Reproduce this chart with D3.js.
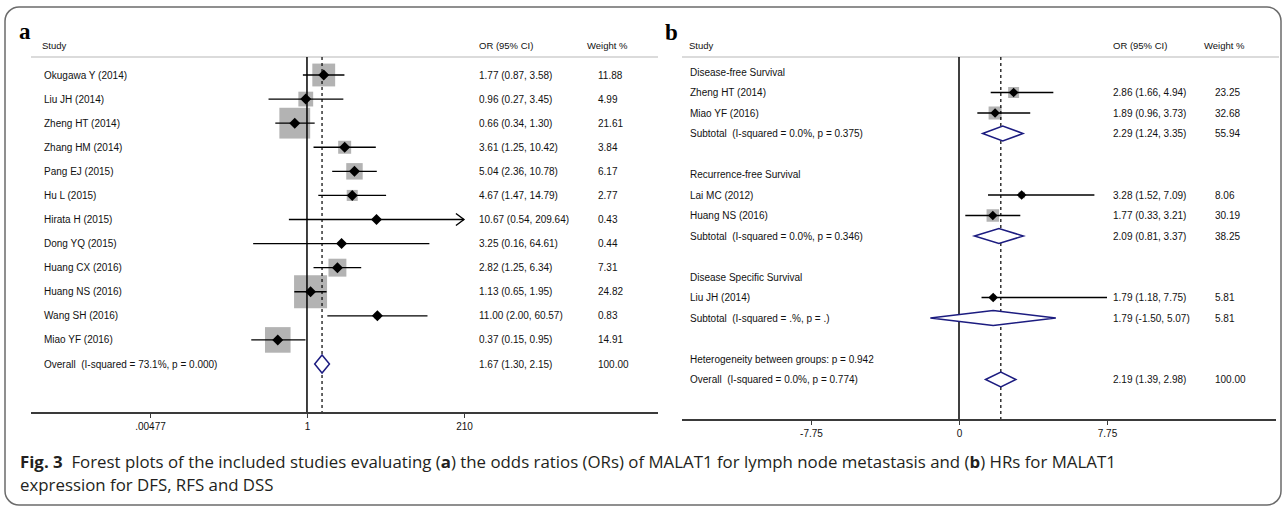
<!DOCTYPE html>
<html>
<head>
<meta charset="utf-8">
<script src="https://cdn.jsdelivr.net/npm/d3@7"></script>
<style>
  body { margin: 0; background: #fff; }
  svg { display: block; }
  svg text { white-space: pre; }
</style>
</head>
<body>
<svg id="chart" width="1287" height="512"></svg>
<script>
// panel a : odds ratios, log scale
const studiesA = ["Okugawa Y (2014)", "Liu JH (2014)", "Zheng HT (2014)", "Zhang HM (2014)",
  "Pang EJ (2015)", "Hu L (2015)", "Hirata H (2015)", "Dong YQ (2015)", "Huang CX (2016)",
  "Huang NS (2016)", "Wang SH (2016)", "Miao YF (2016)"];
const orA     = [1.77, 0.96, 0.66, 3.61, 5.04, 4.67, 10.67, 3.25, 2.82, 1.13, 11.00, 0.37];
const lowA    = [0.87, 0.27, 0.34, 1.25, 2.36, 1.47, 0.54, 0.16, 1.25, 0.65, 2.00, 0.15];
const highA   = [3.58, 3.45, 1.30, 10.42, 10.78, 14.79, 209.64, 64.61, 6.34, 1.95, 60.57, 0.95];
const weightA = [11.88, 4.99, 21.61, 3.84, 6.17, 2.77, 0.43, 0.44, 7.31, 24.82, 0.83, 14.91];
const overallA = { label: "Overall  (I-squared = 73.1%, p = 0.000)", est: 1.67, low: 1.30, high: 2.15, weight: 100.00 };
const tickValuesA = [0.00477, 1, 210];
const tickLabelsA = [".00477", "1", "210"];

// panel b : hazard ratios by outcome
const labelsB = ["Disease-free Survival", "Zheng HT (2014)", "Miao YF (2016)",
  "Subtotal  (I-squared = 0.0%, p = 0.375)", "",
  "Recurrence-free Survival", "Lai MC (2012)", "Huang NS (2016)",
  "Subtotal  (I-squared = 0.0%, p = 0.346)", "",
  "Disease Specific Survival", "Liu JH (2014)", "Subtotal  (I-squared = .%, p = .)", "",
  "Heterogeneity between groups: p = 0.942", "Overall  (I-squared = 0.0%, p = 0.774)"];
const kindB   = ["head", "study", "study", "pooled", "blank", "head", "study", "study", "pooled", "blank",
  "head", "study", "pooled", "blank", "head", "pooled"];
const hrB     = [null, 2.86, 1.89, 2.29, null, null, 3.28, 1.77, 2.09, null, null, 1.79, 1.79, null, null, 2.19];
const lowB    = [null, 1.66, 0.96, 1.24, null, null, 1.52, 0.33, 0.81, null, null, 1.18, -1.50, null, null, 1.39];
const highB   = [null, 4.94, 3.73, 3.35, null, null, 7.09, 3.21, 3.37, null, null, 7.75, 5.07, null, null, 2.98];
const weightB = [null, 23.25, 32.68, 55.94, null, null, 8.06, 30.19, 38.25, null, null, 5.81, 5.81, null, null, 100.00];
const overallB = 2.19;
const tickValuesB = [-7.75, 0, 7.75];
const tickLabelsB = ["-7.75", "0", "7.75"];

const svg = d3.select("#chart");
const font = "'Liberation Sans', Arial, Helvetica, sans-serif";
const f2 = v => d3.format(".2f")(v).replace("\u2212", "-");
const navy = "#1c1c80";
const ciText = (e, l, h) => `${f2(e)} (${f2(l)}, ${f2(h)})`;

// frame
svg.append("rect")
  .attr("x", 5).attr("y", 7).attr("width", 1276).attr("height", 498)
  .attr("rx", 14).attr("fill", "none").attr("stroke", "#6b6b6b").attr("stroke-width", 1.5);

function diamond(g, x, y, lo, hi, h) {
  g.append("path")
    .attr("d", `M${lo},${y} L${x},${y - h} L${hi},${y} L${x},${y + h} Z`)
    .attr("fill", "#fff").attr("stroke", navy).attr("stroke-width", 1.5);
}
function marker(g, x, y, s) {
  g.append("path")
    .attr("d", `M${x - s},${y} L${x},${y - s} L${x + s},${y} L${x},${y + s} Z`)
    .attr("fill", "#000");
}
function label(g, x, y, t, size) {
  return g.append("text").attr("x", x).attr("y", y).attr("dy", "0.35em")
    .text(t).style("font-size", (size || 10) + "px").attr("fill", "#111");
}

// ---------------- panel a ----------------
let ga = svg.append("g").style("font-family", font);
let xA = d3.scaleLog().domain([0.00477, 210]).range([150, 464]);
let yA = d3.scaleLinear().domain([0, 12]).range([75, 364]);
let boxA = d3.scaleSqrt().domain([0, 24.82]).range([0, 33]);
let axisYA = 413, topA = 57;

svg.append("text").attr("x", 19).attr("y", 39).text("a")
  .style("font-family", "'Liberation Serif', 'DejaVu Serif', serif")
  .style("font-weight", "bold").style("font-size", "23px");

label(ga, 42, 46, "Study", 9.5);
label(ga, 479, 46, "OR (95% CI)", 9.5);
label(ga, 587, 46, "Weight %", 9.5);
ga.append("line").attr("x1", 31).attr("x2", 658).attr("y1", topA).attr("y2", topA)
  .attr("stroke", "#cfcfcf").attr("stroke-width", 1.5);

// weight boxes
ga.selectAll("rect.box").data(orA).enter().append("rect").attr("class", "box")
  .attr("x", (d, i) => xA(d) - boxA(weightA[i]) / 2)
  .attr("y", (d, i) => yA(i) - boxA(weightA[i]) / 2)
  .attr("width", (d, i) => boxA(weightA[i]))
  .attr("height", (d, i) => boxA(weightA[i]))
  .attr("fill", "#b3b3b3");

// reference lines
ga.append("line").attr("x1", xA(1)).attr("x2", xA(1)).attr("y1", topA).attr("y2", axisYA)
  .attr("stroke", "#000").attr("stroke-width", 1.5);
ga.append("line").attr("x1", xA(overallA.est)).attr("x2", xA(overallA.est)).attr("y1", topA).attr("y2", axisYA)
  .attr("stroke", "#000").attr("stroke-width", 1.2).attr("stroke-dasharray", "3,3");

// confidence intervals
let xMaxA = xA.range()[1];
orA.forEach((d, i) => {
  let x1 = xA(lowA[i]), x2 = Math.min(xA(highA[i]), xMaxA);
  ga.append("line").attr("x1", x1).attr("x2", x2).attr("y1", yA(i)).attr("y2", yA(i))
    .attr("stroke", "#000").attr("stroke-width", 1.4);
  if (xA(highA[i]) > xMaxA - 3) {
    ga.append("path").attr("d", `M${x2 - 8},${yA(i) - 6} L${x2},${yA(i)} L${x2 - 8},${yA(i) + 6}`)
      .attr("fill", "none").attr("stroke", "#000").attr("stroke-width", 1.4);
  }
  marker(ga, xA(d), yA(i), 5.5);
});
diamond(ga, xA(overallA.est), yA(12), xA(overallA.low), xA(overallA.high), 9);

// text columns
studiesA.forEach((s, i) => {
  label(ga, 44, yA(i), s);
  label(ga, 479, yA(i), ciText(orA[i], lowA[i], highA[i]));
  label(ga, 598, yA(i), f2(weightA[i]));
});
label(ga, 44, yA(12), overallA.label);
label(ga, 479, yA(12), ciText(overallA.est, overallA.low, overallA.high));
label(ga, 598, yA(12), f2(overallA.weight));

// axis
ga.append("line").attr("x1", 31).attr("x2", 658).attr("y1", axisYA).attr("y2", axisYA)
  .attr("stroke", "#3a3a3a").attr("stroke-width", 2);
let axA = ga.append("g").attr("transform", `translate(0,${axisYA})`)
  .call(d3.axisBottom(xA).tickValues(tickValuesA).tickSize(5).tickPadding(5)
    .tickFormat((d, i) => tickLabelsA[i]));
axA.select(".domain").remove();
axA.selectAll("text").style("font-family", font).style("font-size", "10px").attr("fill", "#111");
axA.selectAll("line").attr("stroke", "#3a3a3a");

// ---------------- panel b ----------------
let gb = svg.append("g").style("font-family", font);
let xB = d3.scaleLinear().domain([-7.75, 7.75]).range([811, 1107]);
let yB = d3.scaleLinear().domain([0, 15]).range([72, 379.5]);
let boxB = d3.scaleSqrt().domain([0, 32.68]).range([0, 13]);
let axisYB = 420, topB = 57;

svg.append("text").attr("x", 665).attr("y", 40).text("b")
  .style("font-family", "'Liberation Serif', 'DejaVu Serif', serif")
  .style("font-weight", "bold").style("font-size", "23px");

label(gb, 689, 46, "Study", 9.5);
label(gb, 1113, 46, "OR (95% CI)", 9.5);
label(gb, 1204, 46, "Weight %", 9.5);
gb.append("line").attr("x1", 682).attr("x2", 1279).attr("y1", topB).attr("y2", topB)
  .attr("stroke", "#cfcfcf").attr("stroke-width", 1.5);

kindB.forEach((k, i) => {
  if (k !== "study") return;
  let s = boxB(weightB[i]);
  gb.append("rect").attr("x", xB(hrB[i]) - s / 2).attr("y", yB(i) - s / 2)
    .attr("width", s).attr("height", s).attr("fill", "#b3b3b3");
});

gb.append("line").attr("x1", xB(0)).attr("x2", xB(0)).attr("y1", topB).attr("y2", axisYB)
  .attr("stroke", "#000").attr("stroke-width", 1.5);
gb.append("line").attr("x1", xB(overallB)).attr("x2", xB(overallB)).attr("y1", topB).attr("y2", axisYB)
  .attr("stroke", "#000").attr("stroke-width", 1.2).attr("stroke-dasharray", "3,3");

kindB.forEach((k, i) => {
  if (k === "blank") return;
  label(gb, 690, yB(i), labelsB[i]);
  if (k === "head") return;
  if (k === "study") {
    gb.append("line").attr("x1", xB(lowB[i])).attr("x2", xB(highB[i])).attr("y1", yB(i)).attr("y2", yB(i))
      .attr("stroke", "#000").attr("stroke-width", 1.4);
    marker(gb, xB(hrB[i]), yB(i), 4.8);
  } else {
    diamond(gb, xB(hrB[i]), yB(i), xB(lowB[i]), xB(highB[i]), 7.5);
  }
  label(gb, 1113, yB(i), ciText(hrB[i], lowB[i], highB[i]));
  label(gb, 1215, yB(i), f2(weightB[i]));
});

gb.append("line").attr("x1", 682).attr("x2", 1276).attr("y1", axisYB).attr("y2", axisYB)
  .attr("stroke", "#3a3a3a").attr("stroke-width", 2);
let axB = gb.append("g").attr("transform", `translate(0,${axisYB})`)
  .call(d3.axisBottom(xB).tickValues(tickValuesB).tickSize(5).tickPadding(5)
    .tickFormat((d, i) => tickLabelsB[i]));
axB.select(".domain").remove();
axB.selectAll("text").style("font-family", font).style("font-size", "10px").attr("fill", "#111");
axB.selectAll("line").attr("stroke", "#3a3a3a");

// ---------------- caption ----------------
const capFont = "'Open Sans', 'Noto Sans', sans-serif";
let cap1 = svg.append("text").attr("x", 20).attr("y", 468)
  .style("font-family", capFont).style("font-size", "16px").attr("fill", "#231f20");
cap1.append("tspan").text("Fig. 3").style("font-weight", "bold");
cap1.append("tspan").text("  Forest plots of the included studies evaluating (");
cap1.append("tspan").text("a").style("font-weight", "bold");
cap1.append("tspan").text(") the odds ratios (ORs) of MALAT1 for lymph node metastasis and (");
cap1.append("tspan").text("b").style("font-weight", "bold");
cap1.append("tspan").text(") HRs for MALAT1");
let cap2 = svg.append("text").attr("x", 20).attr("y", 491)
  .style("font-family", capFont).style("font-size", "16px").attr("fill", "#231f20")
  .text("expression for DFS, RFS and DSS");
// fit line 1 to the width it has in the figure
let fs = 16 * 1096 / cap1.node().getComputedTextLength();
cap1.style("font-size", fs + "px");
cap2.style("font-size", fs + "px");
</script>
</body>
</html>
